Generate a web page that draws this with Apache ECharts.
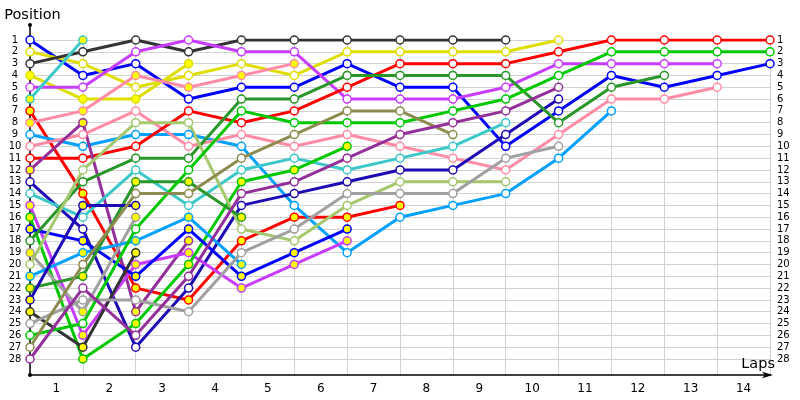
<!DOCTYPE html>
<html><head><meta charset="utf-8">
<script src="https://cdn.jsdelivr.net/npm/echarts@6/dist/echarts.min.js"></script>
<style>html,body{margin:0;padding:0;background:#fff}#c{width:800px;height:400px}</style>
</head><body><div id="c"></div>
<script>
// lap index (0 = start) and lap labels
const lapIndex = [0,1,2,3,4,5,6,7,8,9,10,11,12,13,14];
const lapLabels = ['1','2','3','4','5','6','7','8','9','10','11','12','13','14'];

// positions per driver, lap 0..n (shorter arrays = retired / finished)
const blueA      = [1,4,3,6,5,5,3,5,5,10,7,4,5,4,3];
const yellowA    = [2,3,5,4,3,4,2,2,2,2,1];
const darkA      = [3,2,1,2,1,1,1,1,1,1];
const yellowB    = [4,6,6,3];
const violetA    = [5,5,2,1,2,2,6,6,6,5,3,3,3,3];
const cyanA      = [6,1];
const redB       = [7,14,22,23,18,16,16,15];
const pinkB      = [8,7,4,5,4,3];
const skyA       = [9,10,9,9,10,15,19,16,15,14,11,7];
const pinkA      = [10,9,7,10,9,10,9,10,11,12,9,6,6,5];
const redA       = [11,11,10,7,8,7,5,3,3,3,2,1,1,1,1];
const purpleB    = [12,8,24,18];
const navyA      = [13,17,27,22,15,14,13,12,12,9,6];
const cyanB      = [14,16,12,15,12,11,12,11,10,8];
const violetB    = [15,26,20,19,22,20,18];
const greenB     = [16,28,25,20,13,12,10];
const blueB      = [17,18,21,17,21,19,17];
const dkGreenA   = [18,13,11,11,6,6,4,4,4,4,8,5,4];
const grayB      = [19,24,16];
const ltGreenA   = [20,12,8,8,17,18,15,13,13,13];
const skyB       = [21,19,18,16,20];
const dkGreenB   = [22,21,13,13,16];
const navyB      = [23,15,15];
const darkB      = [24,27,19];
const grayA      = [25,23,23,24,19,17,14,14,14,11,10];
const greenA     = [26,25,17,12,7,8,8,8,7,6,4,2,2,2,2];
const oliveA     = [27,20,14,14,11,9,7,7,9];
const purpleA    = [28,22,26,21,14,13,11,9,8,7,5];

const drivers = [
  {data: blueA,    color:'#0000ff', filled:false},
  {data: yellowA,  color:'#dede00', filled:false},
  {data: darkA,    color:'#333333', filled:false},
  {data: yellowB,  color:'#dede00', filled:true},
  {data: violetA,  color:'#c83cff', filled:false},
  {data: cyanA,    color:'#3cc8c8', filled:true},
  {data: redB,     color:'#ff0000', filled:true},
  {data: pinkB,    color:'#ff8ca5', filled:true},
  {data: skyA,     color:'#00a0ff', filled:false},
  {data: pinkA,    color:'#ff8ca5', filled:false},
  {data: redA,     color:'#ff0000', filled:false},
  {data: purpleB,  color:'#93309a', filled:true},
  {data: navyA,    color:'#1e0ab4', filled:false},
  {data: cyanB,    color:'#3cc8c8', filled:false},
  {data: violetB,  color:'#c83cff', filled:true},
  {data: greenB,   color:'#00c800', filled:true},
  {data: blueB,    color:'#0000ff', filled:true},
  {data: dkGreenA, color:'#289628', filled:false},
  {data: grayB,    color:'#a0a0a0', filled:true},
  {data: ltGreenA, color:'#a5c86e', filled:false},
  {data: skyB,     color:'#00a0ff', filled:true},
  {data: dkGreenB, color:'#289628', filled:true},
  {data: navyB,    color:'#1e0ab4', filled:true},
  {data: darkB,    color:'#333333', filled:true},
  {data: grayA,    color:'#a0a0a0', filled:false},
  {data: greenA,   color:'#00c800', filled:false},
  {data: oliveA,   color:'#8c8c50', filled:false},
  {data: purpleA,  color:'#93309a', filled:false}
];

const FONT = 'DejaVu Sans';
const GRID_LINE = '#d2d2d2';

const lineSeries = drivers.map(d => ({
  type: 'line',
  xAxisIndex: 0, yAxisIndex: 0,
  data: d.data.map((p, i) => [lapIndex[i], p]),
  showSymbol: false,
  lineStyle: {width: 3, color: d.color},
  itemStyle: {color: d.color},
  emphasis: {disabled: true},
  silent: true,
  z: 3
}));
const markerSeries = drivers.map(d => ({
  type: 'scatter',
  xAxisIndex: 0, yAxisIndex: 0,
  data: d.data.map((p, i) => [lapIndex[i], p]),
  symbol: 'circle', symbolSize: 8,
  itemStyle: {color: d.filled ? '#ffff00' : '#ffffff', borderColor: d.color, borderWidth: 1.5, opacity: 1},
  emphasis: {disabled: true},
  silent: true,
  z: 4
}));

const chart = echarts.init(document.getElementById('c'), null, {renderer: 'canvas'});
chart.setOption({
  animation: false,
  backgroundColor: '#ffffff',
  grid: [
    {left: 30, right: 30, top: 40, bottom: 41},   // data
    {left: 30, right: 30, top: 25, bottom: 25},   // axis frame
    {left: 30, right: 30, top: 40, bottom: 25}    // vertical grid lines
  ],
  xAxis: [
    {gridIndex: 0, type: 'value', min: 0, max: 14, interval: 1, show: false},
    {gridIndex: 1, type: 'category', data: lapLabels, boundaryGap: true,
     axisLine: {show: true, lineStyle: {color: '#000', width: 1.5}, symbol: ['none', 'arrow'], symbolSize: [5, 11], symbolOffset: [0, 3]},
     axisTick: {show: false},
     axisLabel: {color: '#000', fontFamily: FONT, fontSize: 12, margin: 8},
     splitLine: {show: false},
     name: 'Laps', nameLocation: 'end', nameGap: 5,
     nameTextStyle: {color: '#000', fontFamily: FONT, fontSize: 14.5, align: 'right', verticalAlign: 'bottom', padding: [0, 0, 3, 0]}
    },
    {gridIndex: 2, type: 'value', min: 0, max: 14, interval: 1,
     axisLine: {show: false}, axisTick: {show: false}, axisLabel: {show: false},
     splitLine: {show: true, lineStyle: {color: GRID_LINE, width: 1}}
    }
  ],
  yAxis: [
    {gridIndex: 0, type: 'value', inverse: true, min: 1, max: 28, interval: 1, position: 'left',
     axisLine: {show: false},
     axisTick: {show: true, length: 3, lineStyle: {color: '#000'}},
     axisLabel: {color: '#000', fontFamily: FONT, fontSize: 10, align: 'center', margin: 15},
     splitLine: {show: true, lineStyle: {color: GRID_LINE, width: 1}}
    },
    {gridIndex: 0, type: 'value', inverse: true, min: 1, max: 28, interval: 1, position: 'right',
     axisLine: {show: false}, axisTick: {show: false},
     axisLabel: {color: '#000', fontFamily: FONT, fontSize: 10, align: 'left', margin: 7},
     splitLine: {show: false}
    },
    {gridIndex: 1, type: 'value', min: 0, max: 1, position: 'left',
     axisLine: {show: true, lineStyle: {color: '#000', width: 1.5}, symbol: ['circle', 'circle'], symbolSize: [4, 4]},
     axisTick: {show: false}, axisLabel: {show: false}, splitLine: {show: false},
     name: 'Position', nameLocation: 'end', nameGap: 2,
     nameTextStyle: {color: '#000', fontFamily: FONT, fontSize: 14.5, padding: [0, 0, 0, 5]}
    },
    {gridIndex: 2, type: 'value', min: 0, max: 1, show: false}
  ],
  series: lineSeries.concat(markerSeries)
});
</script></body></html>
